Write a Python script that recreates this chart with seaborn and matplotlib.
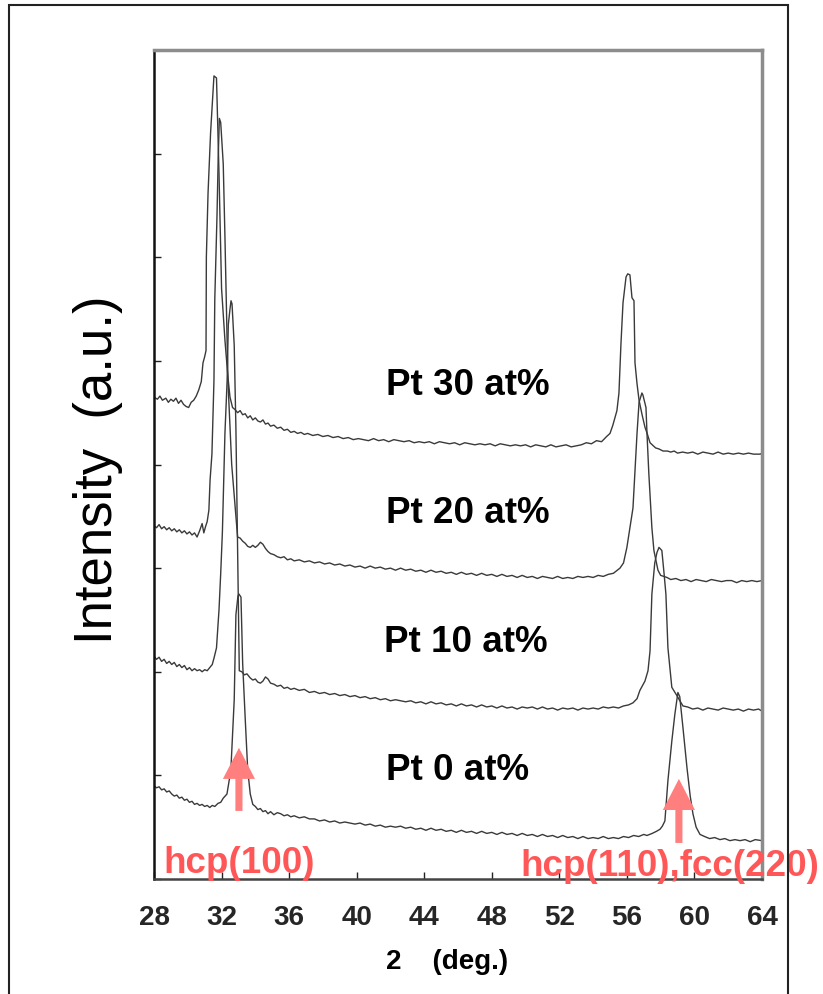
import numpy as np
import pandas as pd
import matplotlib
matplotlib.use("Agg")
import matplotlib.pyplot as plt
import seaborn as sns
from matplotlib.patches import Rectangle, FancyArrow

# ---------------- data ----------------
tt_pt30 = [28.0, 28.2, 28.35, 28.5, 28.7, 28.85, 29.0, 29.15, 29.3, 29.45, 29.6, 29.75, 29.9, 30.05,
           30.2, 30.35, 30.5, 30.65, 30.8, 30.9, 31.0, 31.08, 31.1, 31.2, 31.35, 31.45, 31.55, 31.7,
           31.75, 31.85, 32.0, 32.2, 32.38, 32.5, 32.65, 32.8, 32.95, 33.1, 33.25, 33.4, 33.55, 33.7,
           33.85, 34.0, 34.15, 34.3, 34.45, 34.6, 34.75, 34.9, 35.1, 35.3, 35.5, 35.7, 35.9, 36.1,
           36.3, 36.5, 36.7, 36.9, 37.1, 37.4, 37.7, 38.0, 38.3, 38.6, 38.9, 39.2, 39.5, 39.8, 40.1,
           40.4, 40.7, 41.0, 41.3, 41.6, 41.9, 42.2, 42.5, 42.8, 43.1, 43.4, 43.7, 44.0, 44.3, 44.6,
           44.9, 45.2, 45.5, 45.8, 46.1, 46.4, 46.7, 47.0, 47.3, 47.6, 47.9, 48.2, 48.5, 48.8, 49.1,
           49.4, 49.7, 50.0, 50.3, 50.6, 50.9, 51.2, 51.5, 51.8, 52.1, 52.4, 52.7, 53.0, 53.3, 53.6,
           53.9, 54.2, 54.5, 54.8, 55.0, 55.17, 55.41, 55.53, 55.65, 55.77, 55.95, 56.05, 56.18, 56.3,
           56.42, 56.48, 56.6, 56.72, 56.9, 57.07, 57.2, 57.37, 57.5, 57.7, 57.9, 58.14, 58.4, 58.6,
           58.8, 59.0, 59.3, 59.6, 59.9, 60.2, 60.5, 60.8, 61.1, 61.4, 61.7, 62.0, 62.3, 62.6, 62.9,
           63.2, 63.5, 63.9, 64.0]
int_pt30 = [4.65, 4.63, 4.66, 4.62, 4.64, 4.60, 4.63, 4.61, 4.64, 4.59, 4.62, 4.58, 4.56, 4.55,
            4.60, 4.62, 4.66, 4.72, 4.80, 4.98, 5.04, 5.10, 6.00, 6.62, 7.20, 7.48, 7.75, 7.73,
            7.42, 6.80, 5.70, 5.20, 4.84, 4.65, 4.55, 4.53, 4.50, 4.52, 4.48, 4.49, 4.45, 4.47,
            4.43, 4.45, 4.42, 4.41, 4.43, 4.39, 4.40, 4.37, 4.38, 4.35, 4.36, 4.33, 4.34, 4.31,
            4.32, 4.30, 4.31, 4.29, 4.30, 4.28, 4.29, 4.27, 4.28, 4.26, 4.27, 4.25, 4.26, 4.24, 4.25,
            4.24, 4.23, 4.25, 4.23, 4.24, 4.22, 4.24, 4.23, 4.22, 4.23, 4.21, 4.22, 4.21, 4.22, 4.20,
            4.22, 4.21, 4.20, 4.21, 4.19, 4.21, 4.20, 4.19, 4.20, 4.19, 4.20, 4.18, 4.20, 4.19, 4.18,
            4.19, 4.18, 4.19, 4.17, 4.19, 4.18, 4.17, 4.19, 4.17, 4.18, 4.19, 4.17, 4.18, 4.19, 4.21,
            4.20, 4.23, 4.22, 4.27, 4.30, 4.38, 4.52, 4.69, 5.17, 5.56, 5.81, 5.84, 5.83, 5.61,
            5.58, 4.98, 4.78, 4.62, 4.48, 4.36, 4.30, 4.21, 4.19, 4.16, 4.15, 4.13, 4.13, 4.12,
            4.13, 4.11, 4.12, 4.11, 4.12, 4.10, 4.12, 4.11, 4.10, 4.12, 4.10, 4.11, 4.10, 4.11, 4.10,
            4.11, 4.10, 4.10, 4.11]

tt_pt20 = [28.0, 28.15, 28.3, 28.45, 28.6, 28.75, 28.9, 29.05, 29.2, 29.35, 29.5, 29.65, 29.8, 29.95,
           30.1, 30.25, 30.4, 30.55, 30.7, 30.85, 30.95, 31.05, 31.15, 31.25, 31.32, 31.43, 31.55, 31.6,
           31.73, 31.8, 31.87, 31.95, 32.1, 32.2, 32.38, 32.6, 32.8, 32.95, 33.1, 33.25, 33.4, 33.55,
           33.7, 33.85, 34.0, 34.15, 34.3, 34.45, 34.6, 34.75, 34.9, 35.1, 35.3, 35.5, 35.7, 35.9,
           36.1, 36.3, 36.6, 36.9, 37.2, 37.5, 37.8, 38.1, 38.4, 38.7, 39.0, 39.3, 39.6, 39.9, 40.2,
           40.5, 40.8, 41.1, 41.4, 41.7, 42.0, 42.3, 42.6, 42.9, 43.2, 43.5, 43.8, 44.1, 44.4, 44.7,
           45.0, 45.3, 45.6, 45.9, 46.2, 46.5, 46.8, 47.1, 47.4, 47.7, 48.0, 48.3, 48.6, 48.9, 49.2,
           49.5, 49.8, 50.1, 50.4, 50.7, 51.0, 51.3, 51.6, 51.9, 52.2, 52.5, 52.8, 53.1, 53.4, 53.7,
           54.0, 54.3, 54.6, 54.9, 55.2, 55.59, 55.8, 56.0, 56.18, 56.36, 56.6, 56.72, 56.89, 56.95,
           57.13, 57.19, 57.3, 57.48, 57.6, 57.84, 58.0, 58.37, 58.6, 58.9, 59.2, 59.5, 59.8, 60.1,
           60.4, 60.7, 61.0, 61.3, 61.6, 61.9, 62.2, 62.5, 62.8, 63.1, 63.4, 63.7, 64.0]
int_pt20 = [3.41, 3.39, 3.42, 3.38, 3.40, 3.37, 3.39, 3.36, 3.38, 3.35, 3.37, 3.34, 3.36, 3.33,
            3.35, 3.32, 3.34, 3.30, 3.36, 3.43, 3.34, 3.40, 3.45, 3.56, 3.85, 4.10, 4.81, 5.60,
            6.40, 6.95, 7.34, 7.30, 6.90, 6.20, 4.80, 4.00, 3.60, 3.30, 3.29, 3.26, 3.24, 3.21,
            3.20, 3.22, 3.20, 3.22, 3.25, 3.23, 3.19, 3.16, 3.14, 3.13, 3.11, 3.10, 3.11, 3.08,
            3.09, 3.07, 3.08, 3.06, 3.07, 3.05, 3.06, 3.04, 3.05, 3.03, 3.04, 3.02, 3.03, 3.01, 3.02,
            3.00, 3.02, 3.00, 3.01, 2.99, 3.00, 2.98, 3.00, 2.98, 2.99, 2.97, 2.98, 2.96, 2.98, 2.96,
            2.97, 2.95, 2.96, 2.94, 2.96, 2.94, 2.95, 2.93, 2.95, 2.93, 2.94, 2.92, 2.94, 2.92, 2.93,
            2.91, 2.93, 2.91, 2.92, 2.90, 2.92, 2.91, 2.90, 2.92, 2.90, 2.91, 2.90, 2.92, 2.91, 2.92,
            2.91, 2.93, 2.92, 2.94, 2.95, 3.00, 3.05, 3.20, 3.39, 3.58, 4.30, 4.60, 4.69, 4.67,
            4.55, 4.30, 3.91, 3.39, 3.17, 2.98, 2.93, 2.91, 2.89, 2.90, 2.88, 2.89, 2.87, 2.89,
            2.88, 2.87, 2.89, 2.88, 2.87, 2.88, 2.88, 2.86, 2.88, 2.87, 2.88, 2.87, 2.88]

tt_pt10 = [28.0, 28.15, 28.3, 28.45, 28.6, 28.75, 28.9, 29.05, 29.2, 29.35, 29.5, 29.65, 29.8, 29.95,
           30.1, 30.25, 30.4, 30.55, 30.7, 30.85, 31.0, 31.15, 31.3, 31.45, 31.55, 31.7, 31.85, 31.95,
           32.05, 32.2, 32.33, 32.4, 32.5, 32.56, 32.62, 32.75, 32.85, 32.92, 33.0, 33.05, 33.2, 33.35,
           33.5, 33.7, 33.85, 34.0, 34.15, 34.3, 34.45, 34.6, 34.75, 34.9, 35.1, 35.3, 35.5, 35.7,
           35.9, 36.1, 36.3, 36.6, 36.9, 37.2, 37.5, 37.8, 38.1, 38.4, 38.7, 39.0, 39.3, 39.6, 39.9,
           40.2, 40.5, 40.8, 41.1, 41.4, 41.7, 42.0, 42.3, 42.6, 42.9, 43.2, 43.5, 43.8, 44.1, 44.4,
           44.7, 45.0, 45.3, 45.6, 45.9, 46.2, 46.5, 46.8, 47.1, 47.4, 47.7, 48.0, 48.3, 48.6, 48.9,
           49.2, 49.5, 49.8, 50.1, 50.4, 50.7, 51.0, 51.3, 51.6, 51.9, 52.2, 52.5, 52.8, 53.1, 53.4,
           53.7, 54.0, 54.3, 54.6, 54.9, 55.2, 55.5, 55.8, 56.1, 56.36, 56.6, 56.77, 57.07, 57.25,
           57.37, 57.48, 57.65, 57.78, 57.9, 58.07, 58.2, 58.31, 58.43, 58.66, 58.96, 59.1, 59.32,
           59.6, 59.9, 60.2, 60.5, 60.8, 61.1, 61.4, 61.7, 62.0, 62.3, 62.6, 62.9, 63.2, 63.5, 63.8,
           64.0]
int_pt10 = [2.15, 2.12, 2.14, 2.10, 2.12, 2.08, 2.10, 2.07, 2.09, 2.05, 2.07, 2.04, 2.06, 2.02,
            2.04, 2.01, 2.03, 2.01, 2.02, 2.00, 2.02, 2.01, 2.04, 2.07, 2.13, 2.23, 2.60, 2.95,
            3.35, 4.30, 4.81, 5.35, 5.50, 5.58, 5.55, 5.15, 4.35, 3.50, 2.60, 2.01, 2.00, 1.97,
            1.98, 1.94, 1.92, 1.93, 1.90, 1.89, 1.91, 1.95, 1.93, 1.89, 1.88, 1.86, 1.87, 1.84,
            1.85, 1.83, 1.84, 1.82, 1.83, 1.80, 1.81, 1.79, 1.80, 1.78, 1.79, 1.77, 1.78, 1.76, 1.77,
            1.75, 1.76, 1.74, 1.75, 1.73, 1.74, 1.72, 1.73, 1.72, 1.71, 1.72, 1.70, 1.71, 1.69, 1.71,
            1.69, 1.70, 1.68, 1.69, 1.67, 1.69, 1.67, 1.68, 1.66, 1.68, 1.66, 1.67, 1.65, 1.67, 1.65,
            1.66, 1.64, 1.66, 1.65, 1.66, 1.64, 1.66, 1.64, 1.65, 1.63, 1.65, 1.64, 1.65, 1.63, 1.65,
            1.64, 1.65, 1.64, 1.66, 1.65, 1.66, 1.65, 1.67, 1.68, 1.70, 1.74, 1.82, 1.91, 2.01,
            2.20, 2.75, 3.05, 3.15, 3.20, 3.17, 2.95, 2.75, 2.23, 1.85, 1.77, 1.73, 1.67,
            1.66, 1.64, 1.65, 1.63, 1.65, 1.64, 1.63, 1.65, 1.64, 1.63, 1.64, 1.62, 1.64, 1.63, 1.64,
            1.62]

tt_pt0 = [28.0, 28.15, 28.3, 28.45, 28.6, 28.75, 28.9, 29.05, 29.2, 29.35, 29.5, 29.65, 29.8, 29.95,
          30.1, 30.25, 30.4, 30.55, 30.7, 30.85, 31.0, 31.15, 31.3, 31.45, 31.6, 31.79, 31.95, 32.1,
          32.32, 32.45, 32.55, 32.65, 32.75, 32.85, 32.97, 33.03, 33.15, 33.25, 33.4, 33.55, 33.7,
          33.85, 34.0, 34.15, 34.3, 34.45, 34.6, 34.75, 34.9, 35.1, 35.3, 35.5, 35.7, 35.9, 36.1,
          36.3, 36.6, 36.9, 37.2, 37.5, 37.8, 38.1, 38.4, 38.7, 39.0, 39.3, 39.6, 39.9, 40.2, 40.5,
          40.8, 41.1, 41.4, 41.7, 42.0, 42.3, 42.6, 42.9, 43.2, 43.5, 43.8, 44.1, 44.4, 44.7, 45.0,
          45.3, 45.6, 45.9, 46.2, 46.5, 46.8, 47.1, 47.4, 47.7, 48.0, 48.3, 48.6, 48.9, 49.2, 49.5,
          49.8, 50.1, 50.4, 50.7, 51.0, 51.3, 51.6, 51.9, 52.2, 52.5, 52.8, 53.1, 53.4, 53.7, 54.0,
          54.3, 54.6, 54.9, 55.2, 55.5, 55.8, 56.1, 56.4, 56.7, 57.0, 57.19, 57.5, 57.75, 57.96,
          58.1, 58.25, 58.43, 58.66, 58.84, 59.02, 59.13, 59.32, 59.56, 59.75, 59.91, 60.1, 60.33,
          60.6, 60.9, 61.2, 61.51, 61.8, 62.1, 62.4, 62.7, 63.0, 63.3, 63.6, 64.0]
int_pt0 = [0.90, 0.88, 0.89, 0.86, 0.87, 0.84, 0.85, 0.82, 0.80, 0.81, 0.78, 0.79, 0.76, 0.77,
           0.74, 0.75, 0.72, 0.73, 0.71, 0.72, 0.70, 0.71, 0.69, 0.71, 0.70, 0.73, 0.74, 0.78,
           0.82, 0.95, 1.05, 1.40, 1.73, 2.55, 2.73, 2.75, 2.72, 2.08, 1.55, 1.05, 0.82,
           0.72, 0.70, 0.67, 0.68, 0.65, 0.66, 0.63, 0.65, 0.62, 0.64, 0.63, 0.61, 0.62, 0.60,
           0.61, 0.59, 0.60, 0.58, 0.58, 0.56, 0.57, 0.55, 0.56, 0.54, 0.55, 0.54, 0.53, 0.54, 0.52,
           0.53, 0.51, 0.52, 0.50, 0.51, 0.50, 0.51, 0.49, 0.50, 0.48, 0.49, 0.47, 0.49, 0.47, 0.48,
           0.46, 0.47, 0.45, 0.47, 0.45, 0.46, 0.44, 0.46, 0.44, 0.45, 0.43, 0.45, 0.43, 0.44, 0.42,
           0.44, 0.42, 0.43, 0.41, 0.43, 0.41, 0.42, 0.40, 0.42, 0.40, 0.41, 0.39, 0.41, 0.39, 0.40,
           0.39, 0.41, 0.39, 0.40, 0.39, 0.41, 0.40, 0.42, 0.41, 0.43, 0.42, 0.44, 0.46, 0.48,
           0.51, 0.56, 0.95, 1.33, 1.59, 1.80, 1.76, 1.46, 1.07, 0.80, 0.63, 0.50, 0.43,
           0.41, 0.39, 0.40, 0.38, 0.39, 0.37, 0.38, 0.37, 0.38, 0.36, 0.38, 0.37]

series_labels = ["Pt 30 at%", "Pt 20 at%", "Pt 10 at%", "Pt 0 at%"]
label_x = [41.75, 41.75, 41.6, 41.75]
label_y = [4.67, 3.44, 2.19, 0.96]

peak_labels = ["hcp(100)", "hcp(110),fcc(220)"]
peak_label_x = [28.53, 49.67]
peak_label_y = [0.06, 0.03]
arrow_x = [33.03, 59.08]
arrow_base = [0.657, 0.348]
arrow_tip = [1.266, 0.966]

x_ticks = [28, 32, 36, 40, 44, 48, 52, 56, 60, 64]
x_label = "2    (deg.)"
y_label = "Intensity  (a.u.)"

# ---------------- figure ----------------
sns.set_style("white")
plt.rcParams['font.family'] = ['Liberation Sans', 'DejaVu Sans']

W, H = 823, 994
fig = plt.figure(figsize=(W / 100, H / 100), dpi=100)
ax = fig.add_axes([154 / W, 1 - 879 / H, (762 - 154) / W, (879 - 50) / H])

line_color = "#3a3a3a"
for xs, ys in [(tt_pt30, int_pt30), (tt_pt20, int_pt20), (tt_pt10, int_pt10), (tt_pt0, int_pt0)]:
    df = pd.DataFrame({"tt": xs, "I": ys})
    sns.lineplot(data=df, x="tt", y="I", ax=ax, estimator=None, sort=False,
                 color=line_color, linewidth=1.0)

ax.set_xlim(28, 64)
ax.set_ylim(0, 8)
ax.set_xticks(x_ticks)
ax.set_xticklabels([str(t) for t in x_ticks])
ax.set_yticks(range(0, 9))
ax.set_yticklabels([])
ax.set_xlabel("")
ax.set_ylabel("")

ax.tick_params(axis='x', direction='in', length=5, width=1, color='#222222', pad=19,
               labelsize=20, bottom=True, top=False)
ax.tick_params(axis='y', direction='in', length=5, width=1, color='#222222',
               left=True, right=False)
for lbl in ax.get_xticklabels():
    lbl.set_fontweight('bold')

for side in ['top', 'right']:
    ax.spines[side].set_color('#8c8c8c')
    ax.spines[side].set_linewidth(2.5)
ax.spines['left'].set_color('#111111')
ax.spines['left'].set_linewidth(1.8)
ax.spines['bottom'].set_color('#444444')
ax.spines['bottom'].set_linewidth(1.8)

# series labels
for txt, lx, ly in zip(series_labels, label_x, label_y):
    ax.text(lx, ly, txt, fontsize=26.5, fontweight='bold', color='black',
            ha='left', va='baseline')

# arrows and peak labels
for ax_x, b, t in zip(arrow_x, arrow_base, arrow_tip):
    arr = FancyArrow(ax_x, b, 0, t - b, width=0.42, head_width=1.9, head_length=0.30,
                     length_includes_head=True, color='#ff7f7f', ec='none', zorder=5)
    ax.add_patch(arr)
for txt, px, py in zip(peak_labels, peak_label_x, peak_label_y):
    ax.text(px, py, txt, fontsize=26.5, fontweight='bold', color='#ff5757',
            ha='left', va='baseline', clip_on=False, zorder=6)

# axis titles
fig.text(112 / W, 1 - 470 / H, y_label, rotation=90, fontsize=38, color='black',
         ha='center', va='baseline', rotation_mode='anchor')
fig.text(447 / W, 1 - 962 / H, x_label, fontsize=20, fontweight='bold', color='black',
         ha='center', va='center')

# outer frame
fig.patches.append(Rectangle((9 / W, -0.05), (788 - 9) / W, 1.05 - 5 / H,
                             transform=fig.transFigure, fill=False, ec='#222222', lw=1.5))

fig.savefig("out.png", dpi=100)
